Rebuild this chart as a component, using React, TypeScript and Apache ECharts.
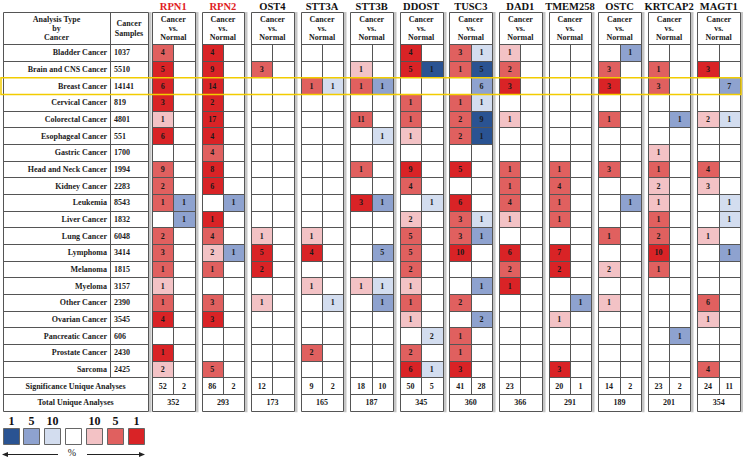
import React, { useEffect, useRef } from "react";
import * as echarts from "echarts";

type Cell = [number, number] | null;
const _ = null;

const CANCERS = [
  "Bladder Cancer", "Brain and CNS Cancer", "Breast Cancer", "Cervical Cancer", "Colorectal Cancer",
  "Esophageal Cancer", "Gastric Cancer", "Head and Neck Cancer", "Kidney Cancer", "Leukemia",
  "Liver Cancer", "Lung Cancer", "Lymphoma", "Melanoma", "Myeloma",
  "Other Cancer", "Ovarian Cancer", "Pancreatic Cancer", "Prostate Cancer", "Sarcoma",
];
const SAMPLES = [1037, 5510, 14141, 819, 4801, 551, 1700, 1994, 2283, 8543, 1832, 6048, 3414, 1815, 3157, 2390, 3545, 606, 2430, 2425];
const GENES = ["RPN1", "RPN2", "OST4", "STT3A", "STT3B", "DDOST", "TUSC3", "DAD1", "TMEM258", "OSTC", "KRTCAP2", "MAGT1"];
const RED_TITLES = ["RPN1", "RPN2"];
const HIGHLIGHT = "Breast Cancer";

// [count, shade level 1..3]
const RPN1_UP: Cell[] = [[4,2],[5,3],[6,3],[3,3],[1,1], [6,3],_,[9,2],[2,2],[1,2], _,[2,2],[3,2],[1,2],[1,1], [1,2],[4,3],_,[1,3],[2,1]];
const RPN1_DOWN: Cell[] = [_,_,_,_,_, _,_,_,_,[1,2], [1,2],_,_,_,_, _,_,_,_,_];
const RPN2_UP: Cell[] = [[4,3],[9,3],[14,3],[2,3],[17,3], [4,3],[4,2],[8,3],[6,3],_, [1,3],[4,2],[2,1],[1,2],_, [3,2],[3,3],_,_,[5,2]];
const RPN2_DOWN: Cell[] = [_,_,_,_,_, _,_,_,_,[1,2], _,_,[1,2],_,_, _,_,_,_,_];
const OST4_UP: Cell[] = [_,[3,2],_,_,_, _,_,_,_,_, _,[1,1],[5,3],[2,3],_, [1,1],_,_,_,_];
const OST4_DOWN: Cell[] = [_,_,_,_,_, _,_,_,_,_, _,_,_,_,_, _,_,_,_,_];
const STT3A_UP: Cell[] = [_,_,[1,2],_,_, _,_,_,_,_, _,[1,1],[4,3],_,[1,1], _,_,_,[2,2],_];
const STT3A_DOWN: Cell[] = [_,_,[1,1],_,_, _,_,_,_,_, _,_,_,_,_, [1,1],_,_,_,_];
const STT3B_UP: Cell[] = [_,[1,1],[1,2],_,[11,2], _,_,[1,2],_,[3,3], _,_,_,_,[1,1], _,_,_,_,_];
const STT3B_DOWN: Cell[] = [_,_,[1,2],_,_, [1,1],_,_,_,[1,2], _,_,[5,2],_,[1,1], [1,2],_,_,_,_];
const DDOST_UP: Cell[] = [[4,3],[5,3],_,[1,2],[1,2], [1,1],_,[9,3],[4,2],_, [2,1],[5,2],[5,2],[2,2],[1,1], [1,2],[1,1],_,[2,2],[6,3]];
const DDOST_DOWN: Cell[] = [_,[1,3],_,_,_, _,_,_,_,[1,1], _,_,_,_,_, _,_,[2,1],_,[1,1]];
const TUSC3_UP: Cell[] = [[3,2],[1,2],_,[1,2],[2,2], [2,2],_,[5,3],_,[6,3], [3,2],[3,2],[10,3],_,_, [2,2],_,[1,2],[1,2],[3,3]];
const TUSC3_DOWN: Cell[] = [[1,1],[5,3],[6,2],[1,1],[9,3], [1,3],_,_,_,_, [1,1],[1,2],_,_,[1,2], _,[2,2],_,_,_];
const DAD1_UP: Cell[] = [[1,1],[2,2],[3,3],_,[1,1], _,_,[1,2],[1,2],[4,2], [1,1],_,[6,3],[2,2],[1,3], _,_,_,_,_];
const DAD1_DOWN: Cell[] = [_,_,_,_,_, _,_,_,_,_, _,_,_,_,_, _,_,_,_,_];
const TMEM258_UP: Cell[] = [_,_,_,_,_, _,_,[1,2],[4,2],[1,2], [1,2],_,[7,3],[2,3],_, _,[1,1],_,_,[3,3]];
const TMEM258_DOWN: Cell[] = [_,_,_,_,_, _,_,_,_,_, _,_,_,_,_, [1,2],_,_,_,_];
const OSTC_UP: Cell[] = [_,[3,2],[3,3],_,[1,2], _,_,[3,2],_,_, _,[1,2],_,[2,1],_, [1,1],_,_,_,_];
const OSTC_DOWN: Cell[] = [[1,2],_,_,_,_, _,_,_,_,[1,2], _,_,_,_,_, _,_,_,_,_];
const KRTCAP2_UP: Cell[] = [_,[1,2],[3,2],_,_, _,[1,1],[1,2],[2,1],[1,1], [1,2],[2,2],[10,3],[1,2],_, _,_,_,_,_];
const KRTCAP2_DOWN: Cell[] = [_,_,_,_,[1,2], _,_,_,_,_, _,_,_,_,_, _,_,[1,2],_,_];
const MAGT1_UP: Cell[] = [_,[3,3],_,_,[2,1], _,_,[4,2],[3,1],_, _,[1,1],_,_,_, [6,2],[1,1],_,_,[4,2]];
const MAGT1_DOWN: Cell[] = [_,_,[7,2],_,[1,1], _,_,_,_,[1,1], [1,1],_,[1,2],_,_, _,_,_,_,_];

const SIG_UP = [52, 86, 12, 9, 18, 50, 41, 23, 20, 14, 23, 24];
const SIG_DOWN: (number | null)[] = [2, 2, null, 2, 10, 5, 28, null, 1, 2, 2, 11];
const TOTAL = [352, 293, 173, 165, 187, 345, 360, 366, 291, 189, 201, 354];

const LEGEND_TICKS = ["1", "5", "10", "", "10", "5", "1"];

const UP = [RPN1_UP, RPN2_UP, OST4_UP, STT3A_UP, STT3B_UP, DDOST_UP, TUSC3_UP, DAD1_UP, TMEM258_UP, OSTC_UP, KRTCAP2_UP, MAGT1_UP];
const DOWN = [RPN1_DOWN, RPN2_DOWN, OST4_DOWN, STT3A_DOWN, STT3B_DOWN, DDOST_DOWN, TUSC3_DOWN, DAD1_DOWN, TMEM258_DOWN, OSTC_DOWN, KRTCAP2_DOWN, MAGT1_DOWN];

// styling
const LINE = "#555555";
const SHADOW = "#c6c6c6";
const FONT = "Liberation Serif";
const RED = ["#ffffff", "#f3c2c5", "#e0605f", "#d92326"];
const BLUE = ["#ffffff", "#d3ddef", "#8ea2cf", "#2a5392"];
const LEGEND_COLORS = [BLUE[3], BLUE[2], BLUE[1], "#ffffff", RED[1], RED[2], RED[3]];

// layout in axis units (x: one gene block per unit, y: one row per unit)
const LT_DIV = 2.158;
const LT_X1 = 2.925;
const GX0 = 3.005;
const BW = 0.859;
const XMAX = GX0 + GENES.length - 1 + BW;
const YMIN = -1.92;
const YMAX = 22;

const crisp = (v: number) => Math.round(v) + 0.5;

function txt(text: any, x: number, y: number, size: number, o: any = {}) {
  return {
    type: "text",
    z2: 10,
    style: {
      text: String(text),
      x,
      y,
      fill: o.fill || "#1a1a1a",
      fontSize: size,
      fontWeight: o.weight || "bold",
      fontFamily: FONT,
      align: o.align || "center",
      verticalAlign: "middle",
      textAlign: o.align || "center",
      textVerticalAlign: "middle",
    },
  };
}
function hl(x1: number, x2: number, y: number) {
  return { type: "line", z2: 5, shape: { x1: crisp(x1), y1: crisp(y), x2: crisp(x2), y2: crisp(y) }, style: { stroke: LINE, lineWidth: 1 } };
}
function vl(x: number, y1: number, y2: number) {
  return { type: "line", z2: 5, shape: { x1: crisp(x), y1: crisp(y1), x2: crisp(x), y2: crisp(y2) }, style: { stroke: LINE, lineWidth: 1 } };
}

export default function App() {
  const ref = useRef<HTMLDivElement>(null);
  useEffect(() => {
    if (!ref.current) return;
    const chart = echarts.init(ref.current, undefined, { renderer: "svg" });

    const cellData: number[][] = [];
    GENES.forEach((_g, gi) => {
      CANCERS.forEach((_c, ri) => {
        const u = UP[gi][ri];
        if (u) cellData.push([gi, ri, 0, u[0], u[1]]);
        const d = DOWN[gi][ri];
        if (d) cellData.push([gi, ri, 1, d[0], d[1]]);
      });
    });

    const renderCell = (_p: any, api: any) => {
      const g = api.value(0), r = api.value(1), side = api.value(2), n = api.value(3), lv = api.value(4);
      const x0 = GX0 + g + (side * BW) / 2;
      const a = api.coord([x0, r]);
      const b = api.coord([x0 + BW / 2, r + 1]);
      const fill = side === 0 ? RED[lv] : BLUE[lv];
      return {
        type: "group",
        children: [
          { type: "rect", shape: { x: crisp(a[0]), y: crisp(a[1]), width: crisp(b[0]) - crisp(a[0]), height: crisp(b[1]) - crisp(a[1]) }, style: { fill } },
          txt(n, (a[0] + b[0]) / 2, (a[1] + b[1]) / 2 + 0.5, 8),
        ],
      };
    };

    const renderBlock = (_p: any, api: any) => {
      const g = api.value(0);
      const x0 = GX0 + g, xm = x0 + BW / 2, x1 = x0 + BW;
      const px0 = api.coord([x0, 0])[0], pxm = api.coord([xm, 0])[0], px1 = api.coord([x1, 0])[0];
      const py = (y: number) => api.coord([x0, y])[1];
      const children: any[] = [];
      children.push({ type: "rect", shape: { x: crisp(px1) + 0.5, y: py(YMIN), width: 2.5, height: py(YMAX) - py(YMIN) + 1.5 }, style: { fill: SHADOW } });
      const name = GENES[g];
      children.push(txt(name, (px0 + px1) / 2, py(-2.27), 10.5, { fill: RED_TITLES.includes(name) ? "#e0201e" : "#111111" }));
      children.push(txt("Cancer", (px0 + px1) / 2, py(-1.5), 8));
      children.push(txt("vs.", (px0 + px1) / 2, py(-0.94), 8));
      children.push(txt("Normal", (px0 + px1) / 2, py(-0.38), 8));
      children.push(hl(px0, px1, py(YMIN)));
      for (let r = 0; r <= YMAX; r++) children.push(hl(px0, px1, py(r)));
      children.push(vl(px0, py(YMIN), py(YMAX)));
      children.push(vl(px1, py(YMIN), py(YMAX)));
      children.push(vl(pxm, py(0), py(21)));
      children.push(txt(SIG_UP[g], (px0 + pxm) / 2, py(20.5) + 0.5, 8));
      if (SIG_DOWN[g] != null) children.push(txt(SIG_DOWN[g], (pxm + px1) / 2, py(20.5) + 0.5, 8));
      children.push(txt(TOTAL[g], (px0 + px1) / 2, py(21.5) + 0.5, 8));
      return { type: "group", children };
    };

    const renderLeft = (_p: any, api: any) => {
      const px0 = api.coord([0, 0])[0], pxd = api.coord([LT_DIV, 0])[0], px1 = api.coord([LT_X1, 0])[0];
      const py = (y: number) => api.coord([0, y])[1];
      const children: any[] = [];
      children.push({ type: "rect", shape: { x: crisp(px1) + 0.5, y: py(YMIN), width: 2.5, height: py(YMAX) - py(YMIN) + 1.5 }, style: { fill: SHADOW } });
      children.push(hl(px0, px1, py(YMIN)));
      for (let r = 0; r <= YMAX; r++) children.push(hl(px0, px1, py(r)));
      children.push(vl(px0, py(YMIN), py(YMAX)));
      children.push(vl(px1, py(YMIN), py(YMAX)));
      children.push(vl(pxd, py(YMIN), py(20)));
      const cx = (px0 + pxd) / 2, cx2 = (pxd + px1) / 2;
      children.push(txt("Analysis Type", cx, py(-1.5), 8));
      children.push(txt("by", cx, py(-0.94), 8));
      children.push(txt("Cancer", cx, py(-0.38), 8));
      children.push(txt("Cancer", cx2, py(-1.24), 8));
      children.push(txt("Samples", cx2, py(-0.64), 8));
      CANCERS.forEach((c, i) => {
        const y = py(i + 0.5) + 0.5;
        children.push(txt(c, pxd - 3, y, 8, { align: "right" }));
        children.push(txt(SAMPLES[i], pxd + 4, y, 8, { align: "left" }));
      });
      children.push(txt("Significance Unique Analyses", (px0 + px1) / 2, py(20.5) + 0.5, 8));
      children.push(txt("Total Unique Analyses", (px0 + px1) / 2, py(21.5) + 0.5, 8));
      return { type: "group", children };
    };

    const renderHighlight = (_p: any, api: any) => {
      const r = api.value(0);
      const a = api.coord([0, r]);
      const b = api.coord([XMAX, r + 1]);
      return {
        type: "rect",
        z2: 20,
        shape: { x: a[0] - 2, y: a[1] + 0.5, width: b[0] - a[0] + 3, height: b[1] - a[1] },
        style: { fill: "none", stroke: "#f2cc00", lineWidth: 1.5 },
      };
    };

    // legend graphics
    const graphic: any[] = [];
    LEGEND_COLORS.forEach((c, i) => {
      const x = 2.5 + i * 20.9;
      graphic.push({ type: "rect", shape: { x: Math.round(x) + 0.5, y: 428.5, width: 16, height: 16 }, style: { fill: c, stroke: "#666666", lineWidth: 1 } });
      if (LEGEND_TICKS[i]) {
        graphic.push({ type: "text", style: { text: LEGEND_TICKS[i], x: Math.round(x) + 8.5, y: 420.5, fill: "#111", fontSize: 12, fontWeight: "bold", fontFamily: FONT, align: "center", verticalAlign: "middle", textAlign: "center", textVerticalAlign: "middle" } });
      }
    });
    graphic.push({ type: "line", shape: { x1: 5, y1: 454.5, x2: 58, y2: 454.5 }, style: { stroke: "#222", lineWidth: 1 } });
    graphic.push({ type: "polygon", shape: { points: [[2, 454.5], [8, 452], [8, 457]] }, style: { fill: "#222" } });
    graphic.push({ type: "line", shape: { x1: 87, y1: 454.5, x2: 141, y2: 454.5 }, style: { stroke: "#222", lineWidth: 1 } });
    graphic.push({ type: "polygon", shape: { points: [[145, 454.5], [139, 452], [139, 457]] }, style: { fill: "#222" } });
    graphic.push({ type: "text", style: { text: "%", x: 72, y: 452.5, fill: "#222", fontSize: 10, fontFamily: FONT, align: "center", verticalAlign: "middle", textAlign: "center", textVerticalAlign: "middle" } });

    chart.setOption({
      animation: false,
      backgroundColor: "#ffffff",
      grid: { left: 3, right: 3, top: 12, bottom: 48.3 },
      xAxis: { type: "value", min: 0, max: XMAX, show: false },
      yAxis: { type: "value", min: YMIN, max: YMAX, inverse: true, show: false },
      graphic,
      series: [
        { type: "custom", name: "cells", clip: false, z: 1, renderItem: renderCell, data: cellData },
        { type: "custom", name: "left", clip: false, z: 2, renderItem: renderLeft, data: [[0]] },
        { type: "custom", name: "blocks", clip: false, z: 2, renderItem: renderBlock, data: GENES.map((_g, i) => [i]) },
        { type: "custom", name: "highlight", clip: false, z: 3, renderItem: renderHighlight, data: [[CANCERS.indexOf(HIGHLIGHT)]] },
      ],
    });
    return () => chart.dispose();
  }, []);
  return <div ref={ref} style={{ position: "fixed", left: 0, top: 0, width: 743, height: 459, background: "#fff" }} />;
}
